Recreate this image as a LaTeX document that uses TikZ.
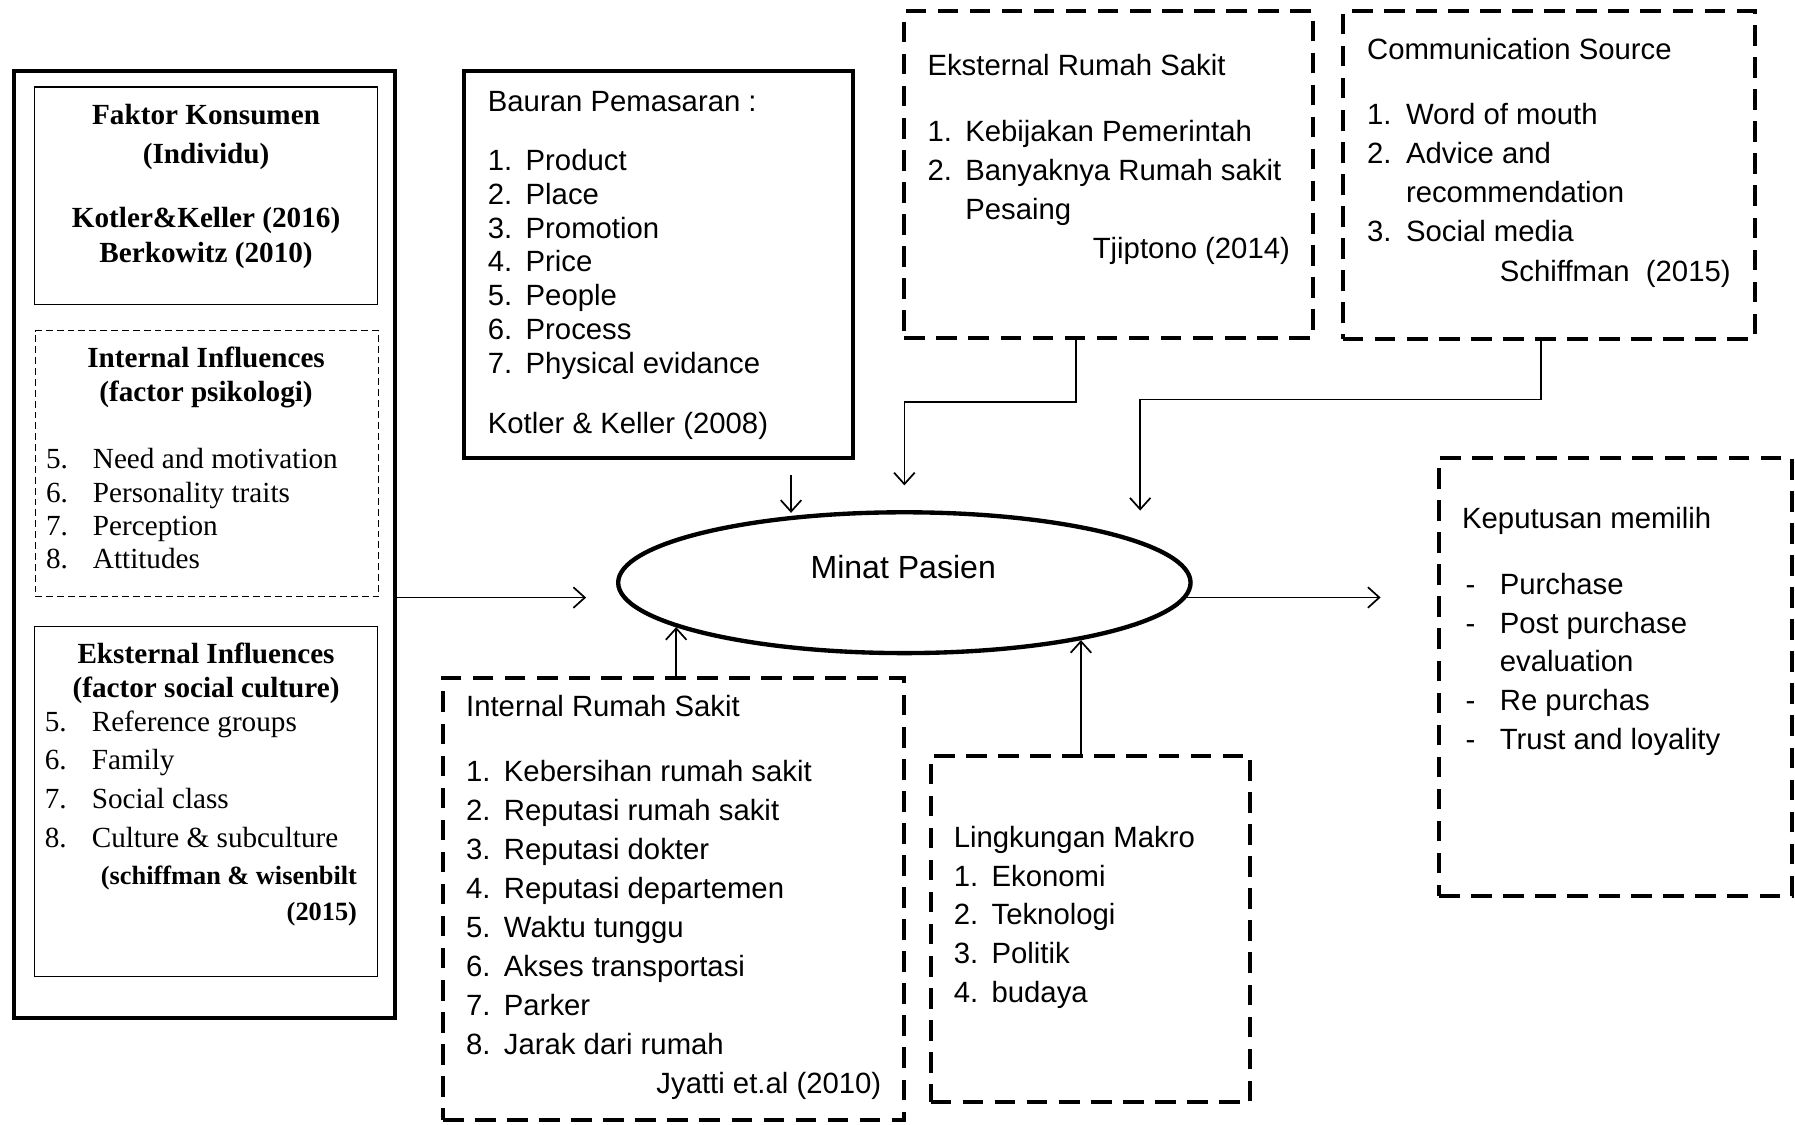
\documentclass[tikz,border=0pt]{standalone}
\usepackage{fontspec}
\setmainfont{Liberation Serif}
\newfontfamily\arialf{Liberation Sans}
\usetikzlibrary{shapes.geometric,arrows.meta}
\tikzset{
  bx/.style={outer sep=0pt, inner sep=0pt, anchor=north west},
  thickbox/.style={bx, draw, line width=3.5pt},
  thinbox/.style={bx, draw, line width=1pt},
  thindash/.style={bx, draw, line width=1pt, dash pattern=on 6pt off 3.5pt},
  thickdash/.style={bx, draw, line width=3.5pt, dash pattern=on 18pt off 10pt},
  arr/.style={line width=1.5pt, -{Straight Barb[length=10pt,width=18pt]}},
  tb/.style={font=\fontsize{25.5}{30}\selectfont\bfseries, inner sep=0pt, anchor=base},
  tbs/.style={font=\fontsize{23}{28}\selectfont\bfseries, inner sep=0pt, anchor=base east},
  tr/.style={font=\fontsize{25.5}{30}\selectfont, inner sep=0pt, anchor=base west},
  sa/.style={font=\arialf\fontsize{25.6}{30}\selectfont, inner sep=0pt, anchor=base west},
  sae/.style={font=\arialf\fontsize{25.6}{30}\selectfont, inner sep=0pt, anchor=base east},
}
\begin{document}
\begin{tikzpicture}[x=1pt,y=-1pt]
\useasboundingbox (0,0) rectangle (1568,982);
% ---------- left column ----------
\node[thickbox, minimum width=333pt, minimum height=827pt] (outer) at (12,62) {};
\node[thinbox, minimum width=300pt, minimum height=190pt] (fk) at (30,76) {};
\node[tb] (fk1) at (180,109) {Faktor Konsumen};
\node[tb] (fk2) at (180,143) {(Individu)};
\node[tb] (fk3) at (180,199) {Kotler\&Keller (2016)};
\node[tb] (fk4) at (180,229) {Berkowitz (2010)};

\node[thindash, minimum width=300pt, minimum height=232pt] (ii) at (31,289) {};
\node[tb] (ii1) at (180,321) {Internal Influences};
\node[tb] (ii2) at (180,351) {(factor psikologi)};
\node[tr] (iin5) at (40,409) {5.}; \node[tr] (iit5) at (81,409) {Need and motivation};
\node[tr] (iin6) at (40,439) {6.}; \node[tr] (iit6) at (81,439) {Personality traits};
\node[tr] (iin7) at (40,468) {7.}; \node[tr] (iit7) at (81,468) {Perception};
\node[tr] (iin8) at (40,497) {8.}; \node[tr] (iit8) at (81,497) {Attitudes};

\node[thinbox, minimum width=300pt, minimum height=306pt] (ei) at (30,547) {};
\node[tb] (ei1) at (180,580) {Eksternal Influences};
\node[tb] (ei2) at (180,609) {(factor social culture)};
\node[tr] (ein5) at (39,639) {5.}; \node[tr] (eit5) at (80,639) {Reference groups};
\node[tr] (ein6) at (39,672) {6.}; \node[tr] (eit6) at (80,672) {Family};
\node[tr] (ein7) at (39,706) {7.}; \node[tr] (eit7) at (80,706) {Social class};
\node[tr] (ein8) at (39,740) {8.}; \node[tr] (eit8) at (80,740) {Culture \& subculture};
\node[tbs] (eis1) at (312,773) {(schiffman \& wisenbilt};
\node[tbs] (eis2) at (312,804) {(2015)};

% ---------- Bauran ----------
\node[thickbox, minimum width=340pt, minimum height=338pt] (bauran) at (405,62) {};
\node[sa] (b0) at (426,97) {Bauran Pemasaran :};
\node[sa] (bn1) at (426,149) {1.}; \node[sa] (bt1) at (459,149) {Product};
\node[sa] (bn2) at (426,178.5) {2.}; \node[sa] (bt2) at (459,178.5) {Place};
\node[sa] (bn3) at (426,208) {3.}; \node[sa] (bt3) at (459,208) {Promotion};
\node[sa] (bn4) at (426,237.5) {4.}; \node[sa] (bt4) at (459,237.5) {Price};
\node[sa] (bn5) at (426,267) {5.}; \node[sa] (bt5) at (459,267) {People};
\node[sa] (bn6) at (426,296.5) {6.}; \node[sa] (bt6) at (459,296.5) {Process};
\node[sa] (bn7) at (426,326) {7.}; \node[sa] (bt7) at (459,326) {Physical evidance};
\node[sa] (bk) at (426,379) {Kotler \& Keller (2008)};

% ---------- Eksternal Rumah Sakit ----------
\node[thickdash, minimum width=357pt, minimum height=285pt] (eks) at (790,10) {};
\node[sa] (e0) at (810,66) {Eksternal Rumah Sakit};
\node[sa] (en1) at (810,124) {1.}; \node[sa] (et1) at (843,124) {Kebijakan Pemerintah};
\node[sa] (en2) at (810,158) {2.}; \node[sa] (et2) at (843,158) {Banyaknya Rumah sakit};
\node[sa] (et2b) at (843,192) {Pesaing};
\node[sae] (ek) at (1127,226) {Tjiptono (2014)};

% ---------- Communication Source ----------
\node[thickdash, minimum width=360pt, minimum height=286pt] (comm) at (1173,10) {};
\node[sa] (c0) at (1194,52) {Communication Source};
\node[sa] (cn1) at (1194,109) {1.}; \node[sa] (ct1) at (1228,109) {Word of mouth};
\node[sa] (cn2) at (1194,143) {2.}; \node[sa] (ct2) at (1228,143) {Advice and};
\node[sa] (ct2b) at (1228,177) {recommendation};
\node[sa] (cn3) at (1194,211) {3.}; \node[sa] (ct3) at (1228,211) {Social media};
\node[sae] (ck) at (1512,246) {Schiffman\ \ (2015)};

% ---------- Minat Pasien ----------
\node[draw, ellipse, line width=3.8pt, minimum width=500pt, minimum height=123pt, inner sep=0pt] (minat) at (790,509) {};
\node[font=\arialf\fontsize{28}{32}\selectfont, inner sep=0pt, anchor=base] (minatt) at (789,505) {Minat Pasien};

% ---------- Internal Rumah Sakit ----------
\node[thickdash, minimum width=403pt, minimum height=386pt] (int) at (387,592) {};
\node[sa] (i0) at (407,626) {Internal Rumah Sakit};
\node[sa] (in1) at (407,683) {1.}; \node[sa] (it1) at (440,683) {Kebersihan rumah sakit};
\node[sa] (in2) at (407,717) {2.}; \node[sa] (it2) at (440,717) {Reputasi rumah sakit};
\node[sa] (in3) at (407,751) {3.}; \node[sa] (it3) at (440,751) {Reputasi dokter};
\node[sa] (in4) at (407,785) {4.}; \node[sa] (it4) at (440,785) {Reputasi departemen};
\node[sa] (in5) at (407,819) {5.}; \node[sa] (it5) at (440,819) {Waktu tunggu};
\node[sa] (in6) at (407,853) {6.}; \node[sa] (it6) at (440,853) {Akses transportasi};
\node[sa] (in7) at (407,887) {7.}; \node[sa] (it7) at (440,887) {Parker};
\node[sa] (in8) at (407,921) {8.}; \node[sa] (it8) at (440,921) {Jarak dari rumah};
\node[sae] (ik) at (770,955) {Jyatti et.al (2010)};

% ---------- Lingkungan Makro ----------
\node[thickdash, minimum width=279pt, minimum height=303pt] (ling) at (813,660) {};
\node[sa] (l0) at (833,740) {Lingkungan Makro};
\node[sa] (ln1) at (833,774) {1.}; \node[sa] (lt1) at (866,774) {Ekonomi};
\node[sa] (ln2) at (833,808) {2.}; \node[sa] (lt2) at (866,808) {Teknologi};
\node[sa] (ln3) at (833,842) {3.}; \node[sa] (lt3) at (866,842) {Politik};
\node[sa] (ln4) at (833,876) {4.}; \node[sa] (lt4) at (866,876) {budaya};

% ---------- Keputusan ----------
\node[thickdash, minimum width=308pt, minimum height=383pt] (kep) at (1257,400) {};
\node[sa] (k0) at (1277,462) {Keputusan memilih};
\node[sa] (kd1) at (1280,519) {-}; \node[sa] (kt1) at (1310,519) {Purchase};
\node[sa] (kd2) at (1280,553) {-}; \node[sa] (kt2) at (1310,553) {Post purchase};
\node[sa] (kt2b) at (1310,587) {evaluation};
\node[sa] (kd3) at (1280,621) {-}; \node[sa] (kt3) at (1310,621) {Re purchas};
\node[sa] (kd4) at (1280,655) {-}; \node[sa] (kt4) at (1310,655) {Trust and loyality};

% ---------- connectors ----------
\coordinate (a1) at (512,522);
\draw[arr] (outer.east |- a1) -- (a1);
\coordinate (b1) at (691,415);
\coordinate (b2) at (691,448);
\draw[arr] (b1) -- (b2);
\coordinate (e1) at (940,351);
\coordinate (e2) at (790,424);
\draw[arr] (eks.south -| e1) -- (e1) -| (e2);
\coordinate (c1) at (1346,349);
\coordinate (c2) at (996,446);
\draw[arr] (comm.south -| c1) -- (c1) -| (c2);
\draw[arr] (int.north -| minat.191) -- (minat.191);
\draw[arr] (ling.north -| minat.-18) -- (minat.-18);
\coordinate (k1) at (1206,522);
\draw[arr] (minat.-3) -- (minat.-3 -| k1);
\end{tikzpicture}
\end{document}
